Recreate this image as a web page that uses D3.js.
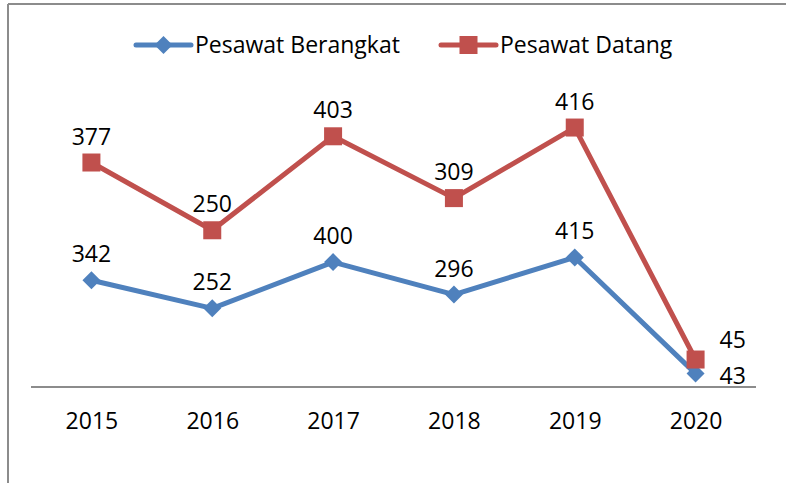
<!DOCTYPE html>
<html><head><meta charset="utf-8">
<script src="https://cdn.jsdelivr.net/npm/d3@7"></script>
<style>body{margin:0;background:#fff}svg{display:block}text{font-family:"Open Sans","Noto Sans",sans-serif;fill:#000}</style>
</head><body><svg id="c" width="786" height="483"></svg>
<script>
const categories = ["2015","2016","2017","2018","2019","2020"];
const seriesNames = ["Pesawat Berangkat","Pesawat Datang"];
const berangkat = [342,252,400,296,415,43];
const datang = [377,250,403,309,416,45];
const colors = ["#4F81BD","#C0504D"];

const FS = 23;
const svg = d3.select("#c");
// frame
svg.append("line").attr("x1",8).attr("x2",786).attr("y1",4).attr("y2",4).attr("stroke","#8c8c8c").attr("stroke-width",2);
svg.append("line").attr("x1",8).attr("x2",8).attr("y1",4).attr("y2",483).attr("stroke","#8c8c8c").attr("stroke-width",2);

const x = d3.scalePoint().domain(categories).range([31,756]).padding(0.5);
const y = d3.scaleLinear().domain([0,900]).range([387,106]);

// stacked
const stackB = berangkat.slice();
const stackD = datang.map((v,i)=>v+berangkat[i]);
const series = [
  {name:seriesNames[0], vals:berangkat, pos:stackB, color:colors[0], marker:"diamond"},
  {name:seriesNames[1], vals:datang, pos:stackD, color:colors[1], marker:"square"}
];

// axis
const ax = svg.append("g").attr("transform","translate(0,387)").call(d3.axisBottom(x).tickSize(0).tickPadding(26));
ax.select(".domain").attr("stroke","#8c8c8c").attr("stroke-width",2).attr("d","M31,0H756");
ax.selectAll("text").attr("font-size",FS).attr("font-family","'Open Sans','Noto Sans',sans-serif").attr("fill","#000");

const line = d3.line().x((d,i)=>x(categories[i])).y(d=>y(d));
function drawMarker(g, type, cx, cy, color){
  if(type==="diamond"){
    g.append("path").attr("d",`M${cx},${cy-9}L${cx+9},${cy}L${cx},${cy+9}L${cx-9},${cy}Z`).attr("fill",color);
  } else {
    g.append("rect").attr("x",cx-9).attr("y",cy-9).attr("width",18).attr("height",18).attr("fill",color);
  }
}
series.forEach((s,si)=>{
  svg.append("path").datum(s.pos).attr("d",line).attr("fill","none").attr("stroke",s.color).attr("stroke-width",5).attr("stroke-linejoin","round");
});
series.forEach((s,si)=>{
  const g = svg.append("g");
  s.pos.forEach((v,i)=>drawMarker(g,s.marker,x(categories[i]),y(v),s.color));
});
series.forEach((s,si)=>{
  s.pos.forEach((v,i)=>{
    const px = x(categories[i]), py = y(v);
    const last = i===categories.length-1;
    const t = svg.append("text").attr("font-size",FS).text(s.vals[i]);
    if(last){
      t.attr("x",px+24).attr("y", si===0 ? py+10 : py-12).attr("text-anchor","start");
    } else {
      t.attr("x",px).attr("y",py-18).attr("text-anchor","middle");
    }
  });
});

// legend
const leg = [{x0:136,tx:195},{x0:441,tx:500}];
series.forEach((s,si)=>{
  const L = leg[si], ly=45;
  svg.append("line").attr("x1",L.x0).attr("x2",L.x0+55).attr("y1",ly).attr("y2",ly).attr("stroke",s.color).attr("stroke-width",5).attr("stroke-linecap","round");
  const g = svg.append("g");
  drawMarker(g,s.marker,L.x0+27.5,ly,s.color);
  svg.append("text").attr("x",L.tx).attr("y",ly+8).attr("font-size",FS).text(s.name);
});
</script></body></html>
